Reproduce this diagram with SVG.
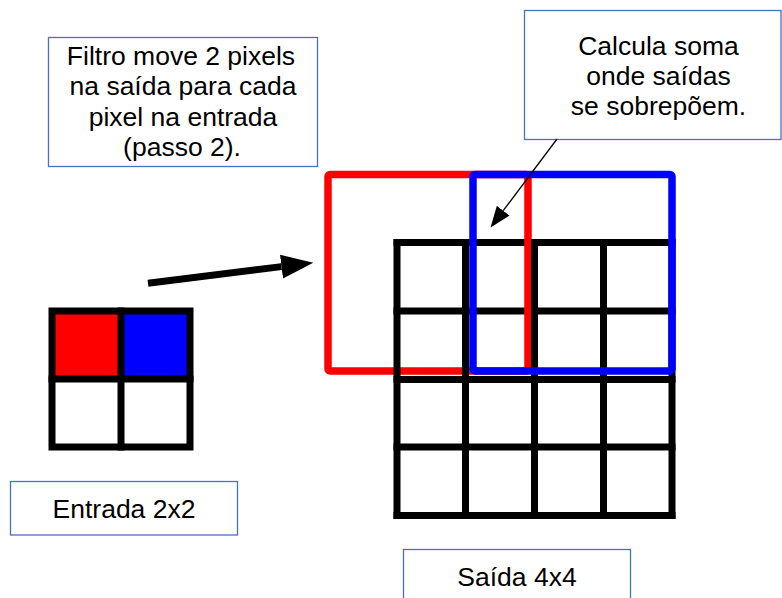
<svg xmlns="http://www.w3.org/2000/svg" width="782" height="598" viewBox="0 0 782 598">
  <style>
    .box { fill: #ffffff; stroke: #4472c4; stroke-width: 1.3; }
    .lbl { font-family: "Liberation Sans", Arial, sans-serif; font-size: 26.5px; fill: #000000; text-anchor: middle; }
    .grid { stroke: #000000; stroke-width: 7; stroke-linecap: square; fill: none; }
    .win { fill: none; stroke-width: 7.5; }
  </style>
  <defs>
    <marker id="headBig" markerUnits="userSpaceOnUse" markerWidth="34" markerHeight="26" refX="0" refY="13" orient="auto" viewBox="0 0 34 26">
      <path d="M0,1 L32,13 L0,25 Z" fill="#000000"/>
    </marker>
    <marker id="headSmall" markerUnits="userSpaceOnUse" markerWidth="22" markerHeight="18" refX="0" refY="9" orient="auto" viewBox="0 0 22 18">
      <path d="M0,1 L21,9 L0,17 Z" fill="#000000"/>
    </marker>
  </defs>
  <rect width="782" height="598" fill="#ffffff"/>

  <g id="note-filtro">
    <rect class="box" x="48.5" y="37.5" width="269" height="129"/>
    <text class="lbl" x="181" y="65">Filtro move 2 pixels</text>
    <text class="lbl" x="183" y="95">na saída para cada</text>
    <text class="lbl" x="183" y="126">pixel na entrada</text>
    <text class="lbl" x="182" y="156">(passo 2).</text>
  </g>

  <g id="note-soma">
    <rect class="box" x="524.5" y="10.5" width="256.5" height="129"/>
    <text class="lbl" x="658.5" y="55">Calcula soma</text>
    <text class="lbl" x="658.5" y="85">onde saídas</text>
    <text class="lbl" x="658.5" y="115">se sobrepõem.</text>
  </g>

  <g id="entrada-grid">
    <rect x="52" y="311" width="69" height="68" fill="#ff0000"/>
    <rect x="121" y="311" width="69" height="68" fill="#0000ff"/>
    <rect class="grid" x="52" y="311" width="138" height="136"/>
    <line class="grid" x1="121" y1="311" x2="121" y2="447"/>
    <line class="grid" x1="52" y1="379" x2="190" y2="379"/>
  </g>

  <g id="saida-grid">
    <g id="saida-rows">
      <line class="grid" x1="397" y1="242.5" x2="672" y2="242.5"/>
      <line class="grid" x1="397" y1="311" x2="672" y2="311"/>
      <line class="grid" x1="397" y1="379.5" x2="672" y2="379.5"/>
      <line class="grid" x1="397" y1="447" x2="672" y2="447"/>
      <line class="grid" x1="397" y1="515.5" x2="672" y2="515.5"/>
    </g>
    <rect id="janela-vermelha" class="win" x="328" y="174.5" width="200" height="196.5" rx="2" stroke="#ff0000"/>
    <g id="saida-cols">
      <line class="grid" x1="397" y1="242.5" x2="397" y2="515.5"/>
      <line class="grid" x1="465.5" y1="242.5" x2="465.5" y2="515.5"/>
      <line class="grid" x1="534.5" y1="242.5" x2="534.5" y2="515.5"/>
      <line class="grid" x1="603.5" y1="242.5" x2="603.5" y2="515.5"/>
      <line class="grid" x1="672" y1="242.5" x2="672" y2="515.5"/>
    </g>
    <rect id="janela-azul" class="win" x="473" y="174.5" width="199" height="196.5" rx="2" stroke="#0000ff"/>
  </g>

  <g id="label-entrada">
    <rect class="box" x="10.5" y="481.5" width="227" height="53.5"/>
    <text class="lbl" x="124" y="518">Entrada 2x2</text>
  </g>

  <g id="label-saida">
    <rect class="box" x="403.5" y="549.5" width="227" height="60"/>
    <text class="lbl" x="517" y="586">Saída 4x4</text>
  </g>

  <g id="connectors">
    <line x1="148" y1="283.3" x2="281.5" y2="266.6" stroke="#000000" stroke-width="7" marker-end="url(#headBig)"/>
    <line x1="557" y1="139" x2="503.2" y2="210.7" stroke="#000000" stroke-width="1.3" marker-end="url(#headSmall)"/>
  </g>
</svg>
